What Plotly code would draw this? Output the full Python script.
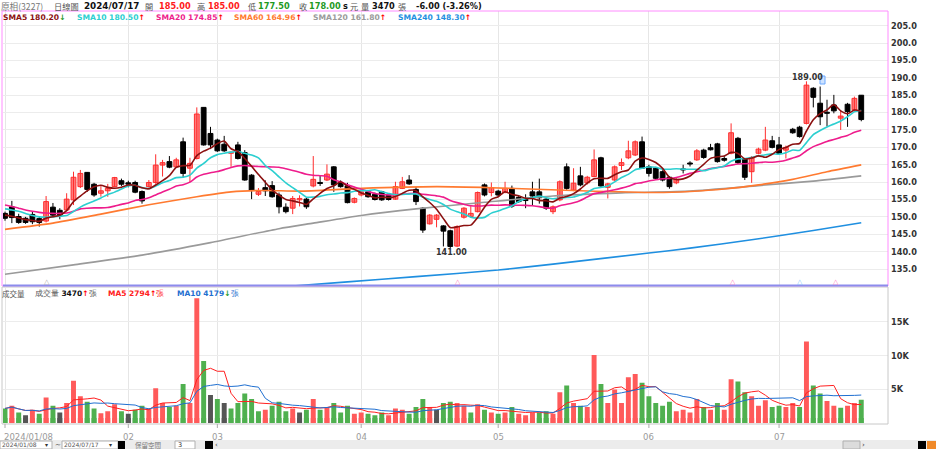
import plotly.graph_objects as go
import pandas as pd

W, H = 936, 449
L, R = 3, 888

# ---------------- data ----------------
month_idx = [0, 18, 31, 52, 72, 94, 113]
month_txt = ["2024/01/08", "02", "03", "04", "05", "06", "07"]
price_ticks = [135, 140, 145, 150, 155, 160, 165, 170, 175, 180, 185, 190, 195, 200, 205]
vol_ticks = [5000, 10000, 15000]
vol_tick_txt = ["5K", "10K", "15K"]

opens = [151.0, 152.9, 150.1, 149.6, 150.7, 149.5, 148.8, 152.8, 151.9, 152.0,
         154.9, 158.7, 162.8, 159.4, 156.8, 157.5, 158.7, 160.4, 159.8, 159.9,
         157.3, 158.7, 159.9, 164.9, 165.9, 164.4, 171.6, 164.0, 166.8, 181.5,
         174.0, 172.1, 170.9, 168.3, 170.7, 168.5, 162.0, 156.5, 158.4, 159.0,
         156.3, 152.8, 152.5, 154.9, 155.1, 158.9, 159.9, 160.6, 164.4, 159.8,
         158.9, 154.2, 156.3, 157.2, 156.5, 157.2, 156.2, 155.1, 158.2, 160.6,
         157.9, 152.5, 148.0, 149.3, 147.4, 146.0, 141.6, 149.9, 150.1, 151.5,
         159.2, 157.0, 157.4, 157.0, 158.2, 155.6, 155.0, 157.2, 157.2, 155.1,
         151.5, 154.9, 164.4, 157.7, 161.8, 159.8, 161.6, 167.0, 158.5, 160.6,
         164.8, 167.0, 167.8, 171.6, 164.4, 164.0, 163.0, 161.4, 159.8, 163.7,
         165.3, 166.4, 169.2, 169.9, 171.0, 166.8, 168.3, 172.6, 166.6, 163.0,
         168.3, 169.2, 171.9, 170.7, 169.2, 175.2, 175.8, 176.9, 187.0, 182.7,
         179.9, 182.2, 178.4, 182.4, 180.8, 185.0]
highs = [151.5, 154.6, 150.9, 150.0, 151.5, 150.0, 156.0, 154.0, 152.5, 156.8,
         163.0, 163.5, 162.9, 159.8, 159.0, 159.5, 161.5, 161.0, 160.4, 160.4,
         157.6, 160.6, 168.0, 166.4, 167.5, 167.0, 172.8, 167.0, 181.5, 181.5,
         175.9, 172.5, 173.3, 168.8, 171.6, 169.2, 162.3, 158.3, 160.5, 160.3,
         157.0, 153.9, 156.0, 156.2, 155.5, 167.5, 162.0, 165.1, 164.6, 160.5,
         159.8, 155.6, 157.8, 157.5, 157.0, 157.5, 156.7, 160.1, 161.5, 162.0,
         158.6, 152.8, 150.8, 150.8, 147.6, 146.3, 147.6, 152.8, 153.1, 157.3,
         159.6, 159.9, 157.8, 160.1, 159.0, 156.0, 156.5, 160.1, 161.0, 155.5,
         153.3, 160.5, 165.4, 164.0, 164.4, 161.8, 169.4, 167.3, 159.8, 164.8,
         166.8, 171.9, 172.0, 173.1, 165.0, 164.4, 163.4, 161.7, 161.2, 165.0,
         166.0, 169.5, 169.6, 171.0, 171.3, 167.5, 176.9, 173.0, 166.9, 167.5,
         169.9, 175.9, 173.3, 173.0, 170.5, 175.6, 176.2, 189.0, 187.3, 187.5,
         183.7, 185.1, 180.5, 182.8, 184.6, 185.0]
lows = [148.9, 148.2, 148.0, 148.0, 147.9, 147.2, 148.4, 150.2, 149.3, 151.8,
        153.4, 158.3, 157.2, 155.8, 155.8, 155.8, 158.5, 158.9, 158.5, 156.8,
        153.8, 158.4, 159.5, 161.6, 164.0, 164.2, 161.3, 160.0, 166.5, 170.5,
        169.5, 168.7, 168.7, 164.4, 166.5, 160.4, 155.1, 156.0, 156.0, 155.5,
        151.0, 151.0, 150.8, 153.0, 152.3, 158.5, 158.9, 160.3, 157.2, 158.4,
        153.9, 153.9, 155.9, 155.5, 154.7, 154.6, 154.7, 154.9, 158.0, 159.2,
        153.4, 145.4, 147.8, 147.0, 141.5, 141.0, 141.3, 149.5, 149.8, 151.3,
        155.9, 155.9, 156.0, 156.8, 152.6, 154.0, 152.5, 153.2, 153.8, 152.0,
        150.8, 154.5, 157.8, 157.4, 158.8, 159.3, 161.4, 158.6, 155.3, 160.3,
        163.5, 166.6, 167.5, 163.8, 161.6, 160.8, 160.2, 158.1, 159.4, 162.5,
        164.5, 166.1, 166.7, 169.1, 165.6, 165.9, 168.0, 165.2, 160.6, 159.8,
        168.0, 168.9, 169.7, 167.9, 166.8, 173.9, 172.8, 176.6, 181.5, 176.4,
        176.0, 179.8, 175.0, 175.9, 180.2, 177.5]
closes = [149.6, 149.8, 148.4, 148.4, 148.6, 148.4, 154.4, 150.5, 150.5, 155.1,
          161.4, 162.5, 157.9, 156.3, 157.5, 158.2, 161.3, 159.4, 159.4, 157.1,
          154.6, 159.9, 164.9, 165.6, 164.3, 166.4, 162.5, 165.4, 179.6, 170.7,
          170.7, 169.0, 169.0, 168.6, 166.8, 160.6, 157.7, 157.3, 157.5, 155.8,
          152.9, 151.5, 155.3, 155.3, 152.9, 160.8, 159.6, 162.3, 159.2, 158.7,
          154.1, 155.3, 157.2, 155.8, 155.0, 154.9, 155.0, 158.7, 160.1, 159.5,
          154.4, 146.2, 150.5, 150.5, 145.9, 141.5, 147.2, 152.5, 151.0, 157.0,
          156.3, 158.4, 156.3, 158.2, 153.1, 154.4, 154.7, 156.0, 155.5, 152.5,
          152.9, 160.1, 158.2, 159.7, 159.2, 161.4, 166.4, 158.9, 159.5, 164.4,
          165.6, 169.0, 171.6, 164.0, 162.5, 161.1, 160.6, 158.7, 160.8, 163.5,
          165.2, 169.0, 167.1, 169.3, 165.9, 166.3, 174.2, 165.6, 161.4, 167.1,
          169.5, 172.1, 170.0, 168.3, 170.0, 174.2, 173.1, 187.9, 184.4, 178.8,
          179.8, 180.5, 179.0, 180.3, 184.1, 178.0]
volumes = [2200, 2600, 1600, 1200, 2000, 1400, 3800, 2600, 1600, 3000,
           6300, 4000, 3200, 2200, 1500, 1800, 2800, 1800, 1400, 2000,
           2600, 2200, 5200, 3000, 2400, 2600, 5800, 3000, 18500, 9200,
           4200, 3600, 3000, 2200, 3000, 4400, 3600, 1800, 2000, 2600,
           3200, 1800, 2200, 1600, 2000, 3600, 2000, 2400, 3000, 1600,
           2600, 1400, 1600, 1400, 1200, 1600, 1200, 2200, 2000, 1400,
           2400, 3600, 2400, 2000, 3000, 3200, 3000, 2600, 1600, 2800,
           2000, 1600, 1400, 1600, 2400, 1400, 1200, 1600, 1600, 1800,
           1400, 4600, 5600, 3000, 2600, 2400, 10100, 5800, 3000, 5000,
           3000, 6800, 7300, 6000, 4000, 3000, 2600, 3200, 1800, 2000,
           1600, 3600, 2400, 2000, 3000, 2000, 6500, 6200, 4600, 4000,
           2600, 3400, 2400, 2600, 2400, 3000, 2400, 12100, 5600, 4400,
           3300, 2600, 2300, 2600, 3000, 3470]

sma5_head = [150.5, 150.2, 149.7, 149.2]
sma10_head = [152.3, 152.0, 151.6, 151.0, 150.4, 150.0, 149.9, 150.0, 150.2]
sma20_head = [153.4, 153.0, 152.5, 152.0, 151.6, 151.3, 151.1, 151.0, 151.0, 151.1,
              151.6, 152.3, 152.5, 152.6, 152.6, 152.7, 153.1, 153.6, 154.0]
sma60_x = [0, 7, 14, 21, 28, 33, 38, 43, 52, 63, 71, 84, 95, 100, 105, 110, 115, 120, 125]
sma60_y = [146.4, 148.2, 150.8, 153.5, 155.8, 157.2, 157.6, 157.4, 158.2, 158.7, 158.4,
           157.5, 157.0, 157.3, 158.0, 159.2, 160.8, 163.0, 164.96]
sma120_x = [0, 10, 20, 30, 40, 45, 52, 60, 70, 80, 90, 100, 110, 118, 125]
sma120_y = [133.5, 136.2, 139.0, 142.6, 146.6, 148.2, 150.4, 152.3, 154.2, 156.0, 156.9,
            157.4, 159.0, 160.3, 161.8]
sma240_x = [40, 50, 60, 72, 80, 94, 100, 109, 118, 125]
sma240_y = [129.8, 131.3, 132.8, 134.7, 136.4, 139.6, 141.0, 143.4, 146.1, 148.3]

n = len(closes)
idx = list(range(n))


def rolling_with_head(vals, win, head):
    s = pd.Series(vals).rolling(win).mean().tolist()
    for i, h in enumerate(head):
        s[i] = h
    return s


sma5 = rolling_with_head(closes, 5, sma5_head)
sma10 = rolling_with_head(closes, 10, sma10_head)
sma20 = rolling_with_head(closes, 20, sma20_head)
vma5 = pd.Series(volumes).rolling(5, min_periods=1).mean().tolist()
vma10 = pd.Series(volumes).rolling(10, min_periods=1).mean().tolist()

RED, GREEN, GRAY = "#ff5a5a", "#4fb04f", "#555555"
vcol = []
prev = None
for c in closes:
    if prev is None or c < prev - 0.05:
        vcol.append(GREEN)
    elif c > prev + 0.05:
        vcol.append(RED)
    else:
        vcol.append(GRAY)
    prev = c


def px(x):
    return (x - L) / (R - L)


def py(y):
    return 1 - y / H


FONT = "DejaVu Sans"
CJK = "Noto Sans CJK TC"

fig = go.Figure()

# ---- candles: wicks as line segments, bodies as floating bars ----
up = [c >= o for o, c in zip(opens, closes)]
for is_up, col in [(True, "#ff2d2d"), (False, "#000000")]:
    wx, wy = [], []
    for i in idx:
        if up[i] == is_up:
            wx += [i, i, None]
            wy += [lows[i], highs[i], None]
    fig.add_trace(go.Scatter(x=wx, y=wy, mode="lines", line=dict(color=col, width=1),
                             showlegend=False, hoverinfo="skip", xaxis="x", yaxis="y"))
for is_up, fc, lc in [(True, "#ff7b7b", "#ff2d2d"), (False, "#000000", "#000000")]:
    bx = [i for i in idx if up[i] == is_up]
    base = [min(opens[i], closes[i]) for i in bx]
    hgt = [max(abs(closes[i] - opens[i]), 0.3) for i in bx]
    fig.add_trace(go.Bar(x=bx, y=hgt, base=base, width=0.7,
                         marker=dict(color=fc, line=dict(color=lc, width=1)),
                         showlegend=False, hoverinfo="skip", xaxis="x", yaxis="y"))

ma_specs = [
    (sma240_x, sma240_y, "#1f8fe0"),
    (sma120_x, sma120_y, "#9a9a9a"),
    (sma60_x, sma60_y, "#ff7a30"),
    (idx, sma20, "#ee1c8c"),
    (idx, sma10, "#2ccfd0"),
    (idx, sma5, "#8b1010"),
]
for xs, ys, col in ma_specs:
    fig.add_trace(go.Scatter(x=xs, y=ys, mode="lines",
                             line=dict(color=col, width=1.6, shape="spline", smoothing=0.6),
                             showlegend=False, hoverinfo="skip", xaxis="x", yaxis="y"))

fig.add_trace(go.Bar(x=idx, y=volumes, marker=dict(color=vcol, line=dict(width=0)),
                     width=0.72, showlegend=False, hoverinfo="skip", xaxis="x2", yaxis="y2"))
fig.add_trace(go.Scatter(x=idx, y=vma5, mode="lines", line=dict(color="#ff2020", width=1),
                         showlegend=False, hoverinfo="skip", xaxis="x2", yaxis="y2"))
fig.add_trace(go.Scatter(x=idx, y=vma10, mode="lines", line=dict(color="#1f6fd0", width=1),
                         showlegend=False, hoverinfo="skip", xaxis="x2", yaxis="y2"))
fig.add_trace(go.Scatter(x=idx, y=[420] * n, mode="markers",
                         marker=dict(symbol="square", size=5, color=vcol, line=dict(width=0)),
                         showlegend=False, hoverinfo="skip", xaxis="x2", yaxis="y2"))

xr = [(L - 5) / 6.85, (R - 5) / 6.85]
axis_common = dict(range=xr, tickvals=month_idx, showticklabels=False, showgrid=True,
                   gridcolor="#e6e6e6", gridwidth=1, zeroline=False, showline=False, ticks="")

vol_top_px, vol_bot_px = 288, 423.3
vol_max = (vol_bot_px - vol_top_px) * 5000 / 33.8

fig.update_layout(
    width=W, height=H,
    margin=dict(l=L, r=W - R, t=0, b=0),
    paper_bgcolor="white", plot_bgcolor="white",
    barmode="overlay",
    xaxis=dict(domain=[0, 1], anchor="y", **axis_common),
    xaxis2=dict(domain=[0, 1], anchor="y2", matches="x", **axis_common),
    yaxis=dict(domain=[py(286), py(11)], range=[205 - (286 - 25.7) / 3.476, 205 - (11 - 25.7) / 3.476],
               side="right", tickvals=price_ticks, ticktext=[f"{v:.1f}" for v in price_ticks],
               tickfont=dict(family=FONT, size=8.2, color="#333333", weight="bold"),
               showgrid=True, gridcolor="#ececec", zeroline=False, ticks="", ticklabelstandoff=2),
    yaxis2=dict(domain=[py(vol_bot_px), py(vol_top_px)], range=[0, vol_max],
                side="right", tickvals=vol_ticks, ticktext=vol_tick_txt,
                tickfont=dict(family=FONT, size=8.2, color="#333333", weight="bold"),
                showgrid=True, gridcolor="#ececec", zeroline=False, ticks="", ticklabelstandoff=2),
    font=dict(family=FONT),
)

shapes = []
shapes.append(dict(type="rect", xref="paper", yref="paper", x0=px(2), x1=px(888), y0=py(286), y1=py(11),
                   line=dict(color="#ff8cff", width=1)))
shapes.append(dict(type="rect", xref="paper", yref="paper", x0=px(2), x1=px(888), y0=py(424), y1=py(287),
                   line=dict(color="#c8c8c8", width=1)))
shapes.append(dict(type="line", xref="paper", yref="paper", x0=px(3), x1=px(888), y0=py(285.5), y1=py(285.5),
                   line=dict(color="#8c8cec", width=2)))
for m in month_idx:
    shapes.append(dict(type="line", xref="x2", yref="paper", x0=m, x1=m, y0=py(424), y1=py(428),
                       line=dict(color="#aaaaaa", width=1)))
shapes.append(dict(type="rect", xref="paper", yref="paper", x0=px(0), x1=px(936), y0=py(449), y1=py(440),
                   line=dict(width=0), fillcolor="#ececec", layer="below"))
for x0, x1, fc in [(0, 52, "white"), (62, 118, "white"), (175, 195, "white"), (843, 860, "#dcdcdc")]:
    shapes.append(dict(type="rect", xref="paper", yref="paper", x0=px(x0), x1=px(x1), y0=py(449), y1=py(441),
                       line=dict(color="#b0b0b0", width=1), fillcolor=fc))
for x0, x1 in [(118, 125), (205, 213), (918, 926)]:
    shapes.append(dict(type="rect", xref="paper", yref="paper", x0=px(x0), x1=px(x1), y0=py(449), y1=py(441),
                       line=dict(width=0), fillcolor="#000000"))
shapes.append(dict(type="rect", xref="paper", yref="paper", x0=px(927), x1=px(936), y0=py(449), y1=py(441),
                   line=dict(width=0), fillcolor="#f08a2a"))
shapes.append(dict(type="rect", xref="paper", yref="paper", x0=px(820), x1=px(825), y0=py(84), y1=py(76),
                   line=dict(color="#6aa8ff", width=1), fillcolor="#cfe3ff"))
fig.update_layout(shapes=shapes)

ann = []


def T(x, y, text, color="#333333", size=8, bold=False, family=FONT, anchor="left"):
    t = f"<b>{text}</b>" if bold else text
    ann.append(dict(x=px(x), y=py(y), xref="paper", yref="paper", text=t, showarrow=False,
                    xanchor=anchor, yanchor="middle", font=dict(family=family, size=size, color=color),
                    borderpad=0))


def S(text, color):
    return f'<span style="color:{color}">{text}</span>'


# header line
T(0, 6, "原相(3227)", "#777777", 8.6, family=CJK)
T(53, 6, "日線圖", "#555555", 8.2, family=CJK)
T(83, 6, "2024/07/17", "#111111", 8.8, True)
T(144, 6, "開", "#555555", 8.2, family=CJK)
T(158, 6, "185.00", "#ff1a1a", 8.2, True)
T(196, 6, "高", "#555555", 8.2, family=CJK)
T(207, 6, "185.00", "#ff1a1a", 8.2, True)
T(247, 6, "低", "#555555", 8.2, family=CJK)
T(257, 6, "177.50", "#1f9a1f", 8.2, True)
T(298, 6, "收", "#555555", 8.2, family=CJK)
T(308, 6, "178.00", "#1f9a1f", 8.2, True)
T(342, 6, "s", "#111111", 8.2, True)
T(349, 6, "元", "#555555", 8.2, family=CJK)
T(360, 6, "量", "#555555", 8.2, family=CJK)
T(371, 6, "3470", "#111111", 8.2, True)
T(397, 6, "張", "#555555", 8.2, family=CJK)
T(415, 6, "-6.00 (-3.26%)", "#111111", 8.2, True)

# SMA legend
leg = [(2, "SMA5 180.20", "#8b1010", "↓", "#1f9a1f"),
       (76, "SMA10 180.50", "#2ccfd0", "↑", "#ff0000"),
       (155, "SMA20 174.85", "#ee1c8c", "↑", "#ff0000"),
       (233, "SMA60 164.96", "#ff7a30", "↑", "#ff0000"),
       (312, "SMA120 161.80", "#9a9a9a", "↑", "#ff0000"),
       (397, "SMA240 148.30", "#1f8fe0", "↑", "#ff0000")]
for x, t, c, a, ac in leg:
    T(x, 18, t + S(a, ac), c, 7.6, True)

# volume legend
T(1, 293, "成交量", "#555555", 7.5, family=CJK)
ann.append(dict(x=px(34), y=py(293), xref="paper", yref="paper", showarrow=False, xanchor="left",
                yanchor="middle", borderpad=0, font=dict(family=FONT, size=7.5, color="#555555"),
                text=S("成交量 ", "#555555") + "<b>" + S("3470", "#111111") + S("↑", "#ff0000") + "</b>" + S("張", "#555555")))
ann.append(dict(x=px(107), y=py(293), xref="paper", yref="paper", showarrow=False, xanchor="left",
                yanchor="middle", borderpad=0, font=dict(family=FONT, size=7.5, color="#ff2020"),
                text="<b>MA5 2794" + S("↑", "#ff0000") + "</b>張"))
ann.append(dict(x=px(176), y=py(293), xref="paper", yref="paper", showarrow=False, xanchor="left",
                yanchor="middle", borderpad=0, font=dict(family=FONT, size=7.5, color="#1f6fd0"),
                text="<b>MA10 4179" + S("↓", "#1f9a1f") + "</b>張"))

T(807, 77.5, "189.00", "#333333", 8, True, anchor="center")
T(451, 252, "141.00", "#333333", 8, True, anchor="center")

for x, c in [(47, "#aaaaaa"), (458, "#ff80c0"), (733, "#ff80c0"), (800, "#80c8ff"), (836, "#ff80c0")]:
    T(x, 282, "△", c, 7, anchor="center")

for m, t in zip(month_idx, month_txt):
    xp = 5 + 6.85 * m
    if m == 0:
        T(3, 437, t, "#9a9a9a", 8.5)
    else:
        T(xp, 437, t, "#9a9a9a", 8.5, anchor="center")

T(1, 444.5, "2024/01/08", "#555555", 6)
T(44, 444.5, "▾", "#333333", 6)
T(54, 444.5, "~", "#333333", 7)
T(63, 444.5, "2024/07/17", "#555555", 6)
T(108, 444.5, "▾", "#333333", 6)
T(134, 444.5, "保留空間", "#777777", 6.5, family=CJK)
T(177, 444.5, "3", "#333333", 6.5)
T(214, 444.5, "‹", "#333333", 7)
T(861, 444.5, "›", "#333333", 7)

fig.update_layout(annotations=ann)
fig.write_html("out.html",
               config={"displayModeBar": False},
               post_script="document.body.style.margin='0';document.body.style.padding='0';"
                           "document.body.style.overflow='hidden';")
